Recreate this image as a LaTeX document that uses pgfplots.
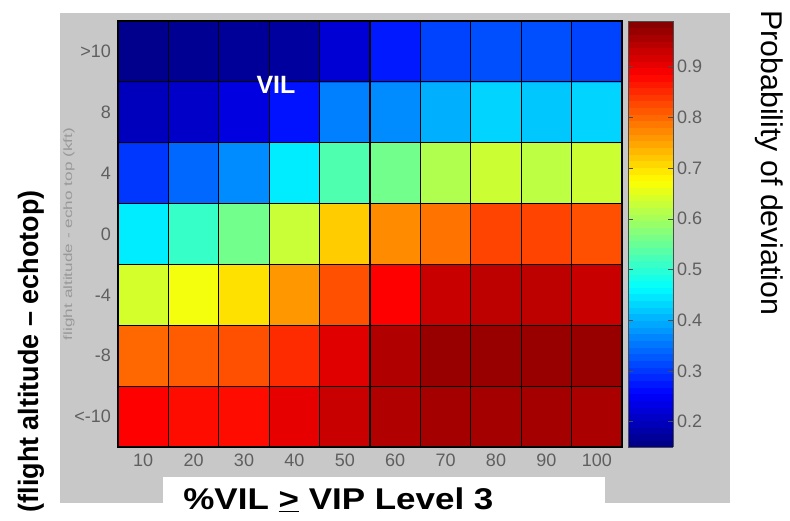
\documentclass[border=0pt]{standalone}
\usepackage{fontspec}
\setmainfont{Liberation Sans}
\usepackage{graphicx}
\usepackage{pgfplots}
\pgfplotsset{compat=1.18}
\definecolor{bggray}{RGB}{200,200,200}
\definecolor{tickgray}{RGB}{95,95,95}
\begin{document}
\begin{tikzpicture}
\path[use as bounding box] (0,0) rectangle (395pt,260pt);
\fill[bggray] (30pt,8.5pt) rectangle (365pt,253.5pt);
\fill[white] (81.5pt,0pt) rectangle (302.5pt,21.5pt);
\begin{axis}[
  at={(59pt,36.5pt)}, anchor=south west,
  scale only axis, width=252pt, height=213pt,
  xmin=0.5, xmax=10.5, ymin=-0.5, ymax=6.5,
  xtick={1,2,3,4,5,6,7,8,9,10},
  xticklabels={10,20,30,40,50,60,70,80,90,100},
  ytick={0,1,2,3,4,5,6},
  yticklabels={<-10,-8,-4,0,4,8,>10},
  major tick length=0pt, minor tick length=0pt,
  minor xtick={1.5,2.5,3.5,4.5,5.5,6.5,7.5,8.5,9.5},
  minor ytick={0.5,1.5,2.5,3.5,4.5,5.5},
  xminorgrids, yminorgrids,
  minor grid style={black, line width=0.6pt},
  axis on top,
  axis line style={black, line width=0.6pt},
  tick label style={font=\fontsize{9}{10}\selectfont, text=tickgray},
  colormap/jet,
  point meta min=0.15, point meta max=0.99,
  colorbar sampled,
  colorbar shift/.style={xshift=3pt},
  colorbar style={
    at={(parent axis.north east)}, anchor=north west,
    width=22.5pt,
    samples=65,
    xminorgrids=false, yminorgrids=false,
    minor xtick={}, minor ytick={},
    xtick=\empty,
    ytick={0.2,0.3,0.4,0.5,0.6,0.7,0.8,0.9},
    yticklabel style={font=\fontsize{9}{10}\selectfont, text=tickgray, xshift=-1.5pt,
      /pgf/number format/fixed, /pgf/number format/precision=1,
      /pgf/number format/assume math mode=true},
    major tick length=2.5pt, tick align=inside,
    ytick pos=both, yticklabel pos=right,
    major tick style={black!70},
    axis line style={black!70, line width=0.4pt},
  },
]
\addplot[matrix plot*, mesh/cols=10, mesh/rows=7, point meta=explicit] table[meta=c] {
x y c
1 0 0.885
2 0 0.875
3 0 0.875
4 0 0.905
5 0 0.93
6 0 0.95
7 0 0.96
8 0 0.96
9 0 0.96
10 0 0.955
1 1 0.80
2 1 0.81
3 1 0.82
4 1 0.85
5 1 0.91
6 1 0.95
7 1 0.97
8 1 0.97
9 1 0.97
10 1 0.97
1 2 0.64
2 2 0.665
3 2 0.70
4 2 0.76
5 2 0.82
6 2 0.885
7 2 0.93
8 2 0.94
9 2 0.94
10 2 0.93
1 3 0.45
2 3 0.51
3 3 0.56
4 3 0.63
5 3 0.717
6 3 0.77
7 3 0.79
8 3 0.83
9 3 0.83
10 3 0.82
1 4 0.30
2 4 0.34
3 4 0.37
4 4 0.45
5 4 0.53
6 4 0.56
7 4 0.61
8 4 0.633
9 4 0.62
10 4 0.633
1 5 0.20
2 5 0.21
3 5 0.23
4 5 0.27
5 5 0.36
6 5 0.37
7 5 0.40
8 5 0.43
9 5 0.42
10 5 0.43
1 6 0.16
2 6 0.165
3 6 0.17
4 6 0.175
5 6 0.22
6 6 0.276
7 6 0.31
8 6 0.32
9 6 0.32
10 6 0.31
};
\end{axis}
\node[text=white, font=\fontsize{12.5}{14}\selectfont\bfseries] at (138pt,217.5pt) {VIL};
\node[rotate=90, anchor=east, inner sep=0pt, font=\fontsize{14}{16}\selectfont\bfseries] at (15.5pt,165pt) {\resizebox{161pt}{\height}{(flight altitude – echotop)}};
\node[rotate=90, inner sep=0pt, font=\fontsize{6}{7}\selectfont, text=black!40] at (34.5pt,143pt) {\resizebox{106pt}{\height}{flight altitude - echo top (kft)}};
\node[rotate=-90, inner sep=0pt, font=\fontsize{15}{17}\selectfont] at (384.5pt,178.5pt) {\resizebox{152.5pt}{\height}{Probability of deviation}};
\node[anchor=base west, inner sep=0pt, font=\fontsize{15}{17}\selectfont\bfseries] at (91.5pt,5.5pt) {\resizebox{155pt}{\height}{\%VIL \underline{>} VIP Level 3}};
\end{tikzpicture}
\end{document}
